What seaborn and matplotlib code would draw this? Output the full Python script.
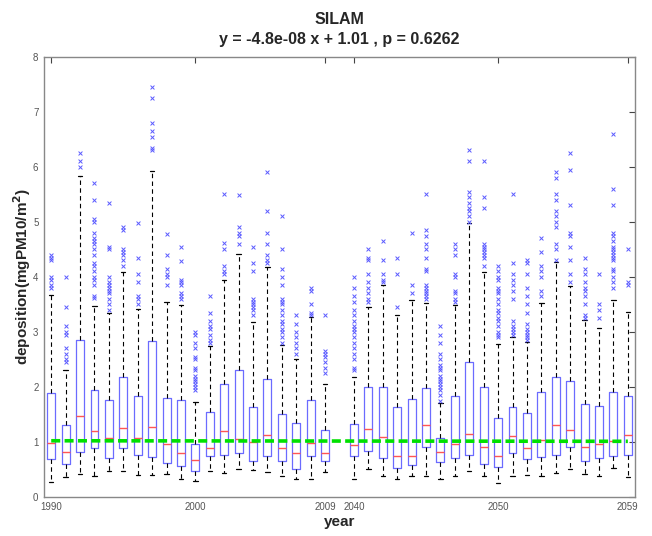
import numpy as np
import pandas as pd
import matplotlib
matplotlib.use("Agg")
import matplotlib.pyplot as plt
import seaborn as sns

sns.set_style("white")
plt.rcParams["font.family"] = ["Liberation Sans", "DejaVu Sans"]

years = list(range(1990, 2010)) + list(range(2040, 2060))

whisk_lo = [0.27, 0.36, 0.42, 0.38, 0.47, 0.47, 0.39, 0.39, 0.42, 0.33,
            0.29, 0.47, 0.44, 0.50, 0.48, 0.45, 0.38, 0.32, 0.33, 0.45,
            0.32, 0.50, 0.38, 0.33, 0.38, 0.38, 0.33, 0.38, 0.47, 0.38,
            0.26, 0.38, 0.39, 0.38, 0.44, 0.50, 0.41, 0.38, 0.52, 0.36]
q1 = [0.68, 0.59, 0.82, 0.89, 0.71, 0.89, 0.77, 0.72, 0.62, 0.56,
      0.47, 0.74, 0.77, 0.80, 0.65, 0.74, 0.65, 0.50, 0.74, 0.65,
      0.74, 0.83, 0.71, 0.53, 0.58, 0.91, 0.64, 0.71, 0.77, 0.59,
      0.55, 0.80, 0.68, 0.73, 0.77, 0.90, 0.65, 0.70, 0.74, 0.77]
median = [0.98, 0.82, 1.47, 1.20, 1.07, 1.25, 1.07, 1.27, 0.97, 0.80,
          0.67, 0.88, 1.20, 1.06, 1.00, 1.13, 0.88, 0.79, 0.98, 0.80,
          0.95, 1.24, 1.08, 0.75, 0.75, 1.30, 0.82, 0.97, 1.14, 0.91,
          0.75, 1.10, 0.89, 1.04, 1.30, 1.21, 0.91, 0.97, 1.01, 1.13]
q3 = [1.89, 1.30, 2.86, 1.94, 1.77, 2.18, 1.84, 2.84, 1.80, 1.76,
      0.97, 1.55, 2.05, 2.30, 1.64, 2.14, 1.50, 1.35, 1.77, 1.21,
      1.33, 1.99, 1.99, 1.64, 1.78, 1.98, 1.07, 1.84, 2.45, 2.00,
      1.44, 1.64, 1.53, 1.90, 2.18, 2.11, 1.68, 1.65, 1.90, 1.83]
whisk_hi = [3.67, 2.30, 5.83, 3.47, 3.35, 4.09, 3.42, 5.92, 3.55, 3.48,
            1.73, 2.75, 3.94, 4.42, 3.18, 4.18, 2.76, 2.50, 3.27, 2.05,
            2.18, 3.45, 3.86, 3.30, 3.58, 3.53, 1.70, 3.48, 4.97, 4.09,
            2.78, 2.91, 2.81, 3.52, 4.27, 3.84, 3.21, 3.07, 3.58, 3.36]
outliers = [
    [3.8, 3.85, 3.95, 4.0, 4.3, 4.35, 4.4],
    [2.45, 2.5, 2.6, 2.7, 2.95, 3.0, 3.1, 3.45, 4.0],
    [6.0, 6.1, 6.25],
    [3.62, 3.65, 3.85, 3.95, 4.0, 4.1, 4.2, 4.25, 4.4, 4.5, 4.6, 4.65, 4.7, 4.8, 5.0, 5.05, 5.4, 5.7],
    [3.4, 3.5, 3.6, 3.7, 3.75, 3.8, 3.85, 3.9, 4.0, 4.5, 4.55, 5.35],
    [4.2, 4.3, 4.4, 4.45, 4.5, 4.85, 4.9],
    [3.5, 3.6, 3.65, 3.9, 4.05, 4.35, 4.97],
    [6.3, 6.35, 6.55, 6.65, 6.8, 7.25, 7.45],
    [3.85, 4.0, 4.05, 4.15, 4.4, 4.78],
    [3.6, 3.65, 3.7, 3.85, 3.9, 3.95, 4.28, 4.55],
    [1.95, 2.0, 2.05, 2.1, 2.15, 2.2, 2.3, 2.35, 2.5, 2.55, 2.7, 2.8, 2.95, 3.0],
    [2.8, 2.85, 2.95, 3.05, 3.1, 3.2, 3.35, 3.65],
    [4.05, 4.1, 4.2, 4.5, 4.62, 5.5],
    [4.6, 4.75, 4.8, 4.9, 5.48],
    [3.3, 3.4, 3.45, 3.5, 3.55, 3.6, 4.1, 4.25, 4.55],
    [4.25, 4.3, 4.4, 4.6, 4.8, 5.2, 5.9],
    [2.8, 2.9, 3.0, 3.05, 3.15, 3.2, 3.3, 3.4, 3.5, 3.55, 3.6, 3.85, 4.0, 4.15, 4.5, 5.1],
    [2.6, 2.7, 2.8, 2.9, 3.0, 3.15, 3.3],
    [3.3, 3.35, 3.5, 3.75, 3.8],
    [2.25, 2.35, 2.45, 2.55, 2.6, 2.65, 3.3],
    [2.3, 2.35, 2.5, 2.6, 2.7, 2.8, 2.9, 3.0, 3.05, 3.1, 3.2, 3.3, 3.4, 3.55, 3.65, 3.8, 4.0],
    [3.55, 3.6, 3.7, 3.8, 3.9, 4.05, 4.3, 4.35, 4.5],
    [3.9, 3.95, 4.05, 4.3, 4.65],
    [3.45, 4.05, 4.35],
    [3.7, 3.85, 4.8],
    [3.6, 3.65, 3.7, 3.75, 3.8, 3.85, 4.1, 4.15, 4.35, 4.5, 4.6, 4.75, 4.85, 5.5],
    [1.75, 1.85, 1.95, 2.0, 2.05, 2.1, 2.15, 2.2, 2.3, 2.35, 2.4, 2.5, 2.6, 2.8, 2.95, 3.1],
    [3.55, 3.6, 3.7, 3.75, 4.0, 4.05, 4.4, 4.5, 4.6],
    [5.0, 5.1, 5.2, 5.25, 5.35, 5.45, 5.55, 6.1, 6.3],
    [4.2, 4.35, 4.4, 4.45, 4.5, 4.55, 4.6, 5.25, 5.45, 6.1],
    [2.9, 2.95, 3.0, 3.1, 3.2, 3.25, 3.35, 3.4, 3.5, 3.6, 3.7, 3.75, 3.8, 3.95, 4.0, 4.1, 4.2],
    [2.95, 3.0, 3.05, 3.1, 3.2, 3.6, 3.75, 3.85, 3.95, 4.05, 4.25, 5.5],
    [2.85, 2.9, 2.95, 3.0, 3.05, 3.15, 3.35, 3.5, 3.65, 3.8, 4.05, 4.25, 4.3],
    [3.65, 3.75, 4.0, 4.1, 4.2, 4.45, 4.7],
    [4.3, 4.5, 4.6, 4.9, 5.0, 5.1, 5.2, 5.4, 5.5, 5.8, 5.9],
    [3.9, 4.05, 4.3, 4.55, 4.75, 4.8, 5.3, 5.95, 6.25],
    [3.25, 3.3, 3.5, 3.65, 3.75, 3.8, 3.9, 4.05, 4.15, 4.35],
    [3.25, 3.4, 3.5, 4.05],
    [3.8, 3.9, 4.0, 4.1, 4.15, 4.3, 4.35, 4.4, 4.45, 4.5, 4.55, 4.65, 4.75, 4.8, 5.3, 5.6, 6.6],
    [3.85, 3.9, 4.5],
]
tick_years = [1990, 2000, 2009, 2040, 2050, 2059]
trend_years = [1990, 2059]
trend_values = [1.02, 1.01]

# long-form tables
box_rows = []
for y, a, b, c, d, e in zip(years, whisk_lo, q1, median, q3, whisk_hi):
    for v in (a, b, c, d, e):
        box_rows.append((str(y), v))
box_df = pd.DataFrame(box_rows, columns=["year", "value"])
out_rows = [(str(y), v) for y, vals in zip(years, outliers) for v in vals]
out_df = pd.DataFrame(out_rows, columns=["year", "value"])

order = [str(y) for y in years[:20]] + ["gap"] + [str(y) for y in years[20:]]

fig = plt.figure(figsize=(6.52, 5.36), dpi=100)
ax = fig.add_axes([0.0675, 0.073, 0.9065, 0.821])

box_blue = "#6b6bff"
sns.boxplot(data=box_df, x="year", y="value", order=order, whis=(0, 100),
            showfliers=False, width=0.55, fill=False, color=box_blue,
            linewidth=0.9, ax=ax, capwidths=0.3,
            boxprops=dict(color=box_blue),
            medianprops=dict(color="#ff5555", linewidth=1.0),
            whiskerprops=dict(color="black", linestyle=(0, (4, 3)), linewidth=0.8),
            capprops=dict(color="black", linewidth=0.9))
sns.stripplot(data=out_df, x="year", y="value", order=order, jitter=False,
              marker="x", color="#5a5aff", size=2.8, linewidth=0.7, ax=ax)

tx = [order.index(str(y)) for y in trend_years]
ax.plot(tx, trend_values, color="#00e000", linestyle=(0, (2.5, 1.2)),
        linewidth=2.6, zorder=5)

ax.set_xlim(-0.5, len(order) - 0.5)
ax.set_ylim(0, 8)
ax.set_xticks([order.index(str(y)) for y in tick_years])
ax.set_xticklabels([str(y) for y in tick_years])
ax.set_yticks(range(0, 9))
ax.tick_params(direction="in", length=4, width=0.8, colors="#444444",
               labelcolor="#555555", labelsize=7, top=True, right=True,
               pad=4)
for s in ax.spines.values():
    s.set_color("#888888")
    s.set_linewidth(1.0)
    s.set_visible(True)

ax.set_xlabel("year", fontsize=11, fontweight="bold", labelpad=2)
ax.set_ylabel("deposition(mgPM10/m$^\\mathbf{2}$)", fontsize=11,
              fontweight="bold", labelpad=0)
ax.set_title("SILAM\ny = -4.8e-08 x + 1.01 , p = 0.6262", fontsize=11.5,
             fontweight="bold", pad=9, linespacing=1.45)

fig.savefig("out.png", dpi=100)
